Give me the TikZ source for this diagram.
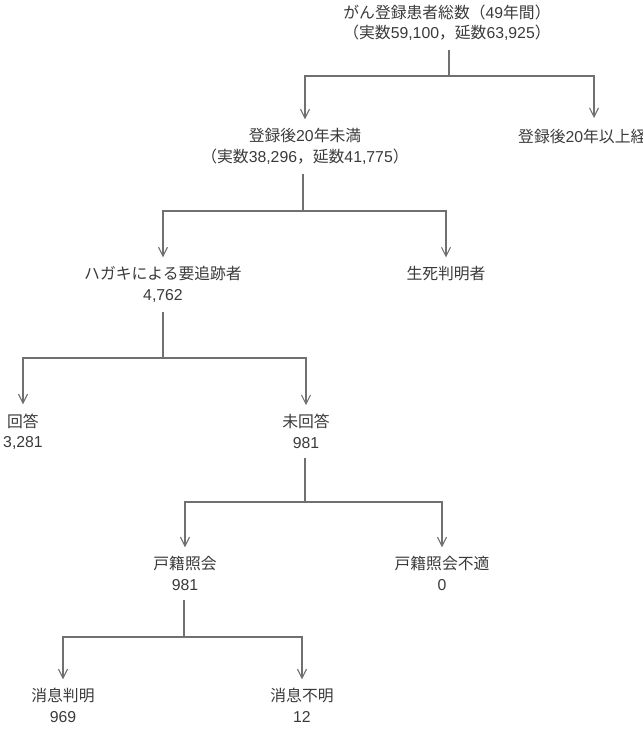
\documentclass[tikz,border=0pt]{standalone}
\usepackage{fontspec}
\setmainfont{Liberation Sans}
\newfontfamily\jpf{Noto Sans CJK JP}
\newcommand\jp[1]{{\jpf #1}}
\usetikzlibrary{arrows.meta}
\definecolor{ln}{HTML}{707070}
\definecolor{tx}{HTML}{3A3A3A}
\tikzset{
  lbl/.style={align=center, inner xsep=0pt, inner ysep=9pt, text=tx,
    font=\fontsize{15.8}{20.5}\selectfont},
  conn/.style={draw=ln, line width=1.1pt},
  arr/.style={conn, -{Straight Barb[length=9pt,width=9pt,line width=1.1pt]}}
}
\begin{document}
\begin{tikzpicture}[x=1pt,y=-1pt]
\useasboundingbox (0,0) rectangle (643,732);
\clip (0,0) rectangle (643,732);
\node[lbl] (top) at (447,22.5) {\jp{がん登録患者総数（}49\jp{年間）}\\\jp{（実数}59,100\jp{，延数}63,925\jp{）}};
\node[lbl] (a) at (305,146.5) {\jp{登録後}20\jp{年未満}\\\jp{（実数}38,296\jp{，延数}41,775\jp{）}};
\node[lbl, anchor=west] (b) at (518,136) {\jp{登録後}20\jp{年以上経過}};
\node[lbl] (c) at (163,284.5) {\jp{ハガキによる要追跡者}\\4,762};
\node[lbl] (d) at (446,274) {\jp{生死判明者}};
\node[lbl] (e) at (23,431.5) {\jp{回答}\\3,281};
\node[lbl] (f) at (306,431.5) {\jp{未回答}\\981};
\node[lbl] (g) at (185,573.5) {\jp{戸籍照会}\\981};
\node[lbl] (h) at (442,573.5) {\jp{戸籍照会不適}\\0};
\node[lbl] (i) at (63,705.5) {\jp{消息判明}\\969};
\node[lbl] (k) at (302,705.5) {\jp{消息不明}\\12};
% junctions
\coordinate (j1) at (449,76);
\coordinate (j2) at (303,211);
\coordinate (j3) at (163,358);
\coordinate (j4) at (305,502);
\coordinate (j5) at (184,637);
\coordinate (bt) at (594,118);
% level 1
\draw[conn] (j1 |- top.south) -- (j1);
\draw[arr] (j1) -| (a.north);
\draw[arr] (j1) -| (bt);
% level 2
\draw[conn] (j2 |- a.south) -- (j2);
\draw[arr] (j2) -| (c.north);
\draw[arr] (j2) -| (d.north);
% level 3
\draw[conn] (j3 |- c.south) -- (j3);
\draw[arr] (j3) -| (e.north);
\draw[arr] (j3) -| (f.north);
% level 4
\draw[conn] (j4 |- f.south) -- (j4);
\draw[arr] (j4) -| (g.north);
\draw[arr] (j4) -| (h.north);
% level 5
\draw[conn] (j5 |- g.south) -- (j5);
\draw[arr] (j5) -| (i.north);
\draw[arr] (j5) -| (k.north);
\end{tikzpicture}
\end{document}
